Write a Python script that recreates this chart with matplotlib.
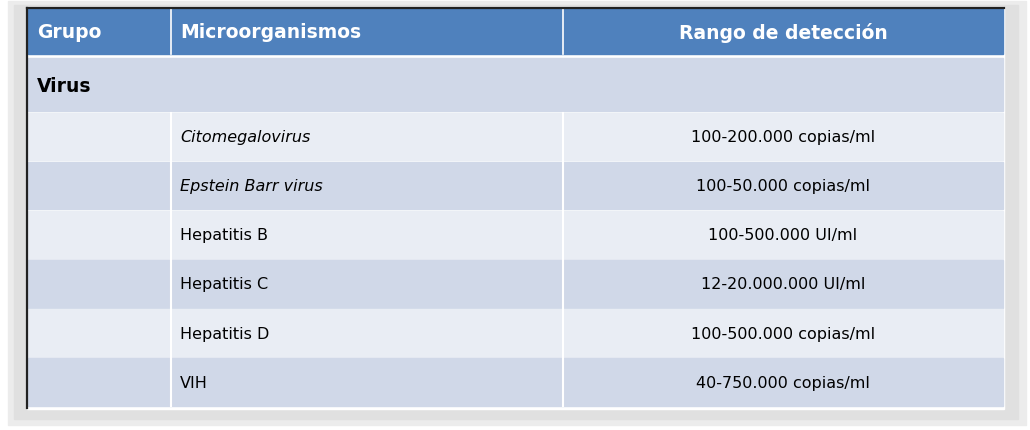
import matplotlib
matplotlib.use("Agg")
import matplotlib.pyplot as plt
from matplotlib.patches import Rectangle

plt.rcParams['font.family'] = ['DejaVu Sans']

headers = ["Grupo", "Microorganismos", "Rango de detección"]
group = "Virus"
organisms = ["Citomegalovirus", "Epstein Barr virus", "Hepatitis B", "Hepatitis C", "Hepatitis D", "VIH"]
italic = [True, True, False, False, False, False]
ranges = ["100-200.000 copias/ml", "100-50.000 copias/ml", "100-500.000 UI/ml",
          "12-20.000.000 UI/ml", "100-500.000 copias/ml", "40-750.000 copias/ml"]

W, H = 1030, 431
fig = plt.figure(figsize=(W/100, H/100), dpi=100)
fig.patch.set_facecolor("#ffffff")
ax = fig.add_axes([0, 0, 1, 1])
ax.set_xlim(0, W); ax.set_ylim(H, 0); ax.axis("off")

ax.add_patch(Rectangle((8, 2), 1018, 424, color="#ececec", zorder=0))
ax.add_patch(Rectangle((14, 6), 1004, 414, color="#e0e0e0", zorder=0))
ax.add_patch(Rectangle((27, 8), 977, 402, color="#ffffff", zorder=1))

x0, x1, x2, x3 = 28, 171, 563, 1003
hy0, hy1 = 10, 55
ax.add_patch(Rectangle((x0, hy0), x3-x0, hy1-hy0, color="#4f81bd", zorder=2))
for xv in (x1, x2):
    ax.plot([xv, xv], [hy0, hy1], color="white", lw=1.2, zorder=3)
fs_h = 13.5
ax.text(37, 33, headers[0], color="white", weight="bold", fontsize=fs_h, va="center", zorder=4)
ax.text(180, 33, headers[1], color="white", weight="bold", fontsize=fs_h, va="center", zorder=4)
ax.text((x2+x3)/2, 33, headers[2], color="white", weight="bold", fontsize=fs_h, va="center", ha="center", zorder=4)

gy0, gy1 = 59, 112
ax.add_patch(Rectangle((x0, gy0), x3-x0, gy1-gy0, color="#d0d8e8", zorder=2))
ax.text(37, 86, group, weight="bold", fontsize=13.5, va="center", zorder=4)

row_h = 49.2
y = 113.5
for i, (org, rng) in enumerate(zip(organisms, ranges)):
    col = "#e9edf4" if i % 2 == 0 else "#d0d8e8"
    ax.add_patch(Rectangle((x0, y), x3-x0, row_h-1.5, color=col, zorder=2))
    for xv in (x1, x2):
        ax.plot([xv, xv], [y, y+row_h-1.5], color="white", lw=1.5, zorder=3)
    yc = y + (row_h-1.5)/2
    ax.text(180, yc, org, fontsize=11.5, va="center", style="italic" if italic[i] else "normal", zorder=4)
    ax.text((x2+x3)/2, yc, rng, fontsize=11.5, va="center", ha="center", zorder=4)
    y += row_h

ax.plot([27, 27], [9, 409], color="#222222", lw=1.6, zorder=5)
ax.plot([27, 1004], [9, 9], color="#222222", lw=1.6, zorder=5)

fig.savefig("out.png", dpi=100)
